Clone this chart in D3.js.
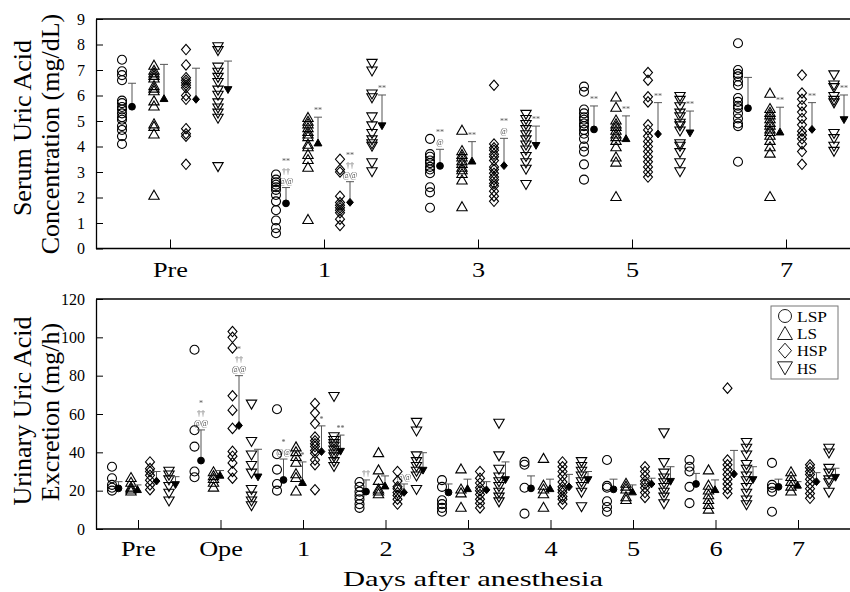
<!DOCTYPE html>
<html><head><meta charset="utf-8">
<script src="https://cdn.jsdelivr.net/npm/d3@7"></script>
<style>body{margin:0;background:#fff} .ann{filter:grayscale(100%)}</style>
</head><body><svg id="c" width="850" height="592"></svg>
<script>
const groups = ["LSP","LS","HSP","HS"];
const topDays = ["Pre","1","3","5","7"];
const botDays = ["Pre","Ope","1","2","3","4","5","6","7"];
const serumTicks = [0,1,2,3,4,5,6,7,8,9];
const urineTicks = [0,20,40,60,80,100,120];

// Serum uric acid (mg/dL), individual values per day
const serumLSP = [
  [7.4,6.95,6.8,6.6,5.8,5.7,5.55,5.45,5.3,5.15,5.05,4.8,4.65,4.4,4.1],
  [2.9,2.7,2.6,2.5,2.4,2.3,2.1,1.85,1.5,1.1,0.8,0.6],
  [4.3,3.7,3.6,3.45,3.35,3.2,3.1,2.95,2.4,2.2,1.6],
  [6.35,6.15,5.45,5.3,5.15,5.05,4.9,4.8,4.65,4.5,4.3,4.0,3.8,3.3,2.7],
  [8.05,7.0,6.85,6.75,6.55,6.4,5.9,5.75,5.6,5.5,5.3,5.1,4.9,4.8,3.4]];
const serumLS = [
  [7.2,7.0,6.9,6.8,6.7,6.4,6.3,6.2,5.8,5.6,4.9,4.8,4.5,2.1],
  [5.15,5.0,4.9,4.75,4.6,4.5,4.4,4.1,4.0,3.7,3.5,3.2,1.15],
  [4.65,3.85,3.7,3.6,3.45,3.35,3.2,3.1,2.95,2.7,1.65],
  [5.95,5.55,5.05,4.9,4.8,4.65,4.5,4.4,4.25,4.0,3.6,3.4,2.05],
  [6.1,5.5,5.35,5.25,5.1,4.95,4.85,4.7,4.6,4.45,4.25,4.0,3.75,2.05]];
const serumHSP = [
  [7.8,7.2,6.7,6.6,6.5,6.4,6.3,6.0,5.85,4.7,4.5,4.4,3.3],
  [3.5,3.1,3.0,2.05,1.8,1.7,1.6,1.5,1.4,1.15,0.9],
  [6.4,4.1,3.95,3.85,3.7,3.6,3.45,3.2,3.1,2.95,2.8,2.7,2.55,2.45,2.25,2.05,1.85],
  [6.9,6.6,5.95,5.75,4.85,4.65,4.4,4.2,4.0,3.8,3.6,3.4,3.2,3.0,2.8],
  [6.8,6.1,5.85,5.6,5.35,5.1,4.85,4.6,4.45,4.3,4.1,3.8,3.3]];
const serumHS = [
  [7.9,7.75,7.1,6.9,6.7,6.5,6.2,6.0,5.7,5.5,5.3,5.1,3.2],
  [7.25,6.95,6.05,5.9,5.15,4.8,4.5,4.25,4.1,4.0,3.35,3.0],
  [5.25,5.05,4.85,4.65,4.45,4.25,4.05,3.85,3.6,3.35,3.1,2.5],
  [5.95,5.8,5.55,5.3,5.15,4.9,4.8,4.6,4.1,4.0,3.75,3.35,3.0],
  [6.8,6.4,6.3,5.95,5.8,5.7,4.5,4.3,4.0,3.8]];
const serumMeanLSP = [5.56,1.77,3.24,4.67,5.5];
const serumMeanLS  = [5.89,4.15,3.44,4.32,4.58];
const serumMeanHSP = [5.85,1.81,3.25,4.49,4.67];
const serumMeanHS  = [6.22,4.8,4.03,4.52,5.04];
const serumSdLSP = [0.92,0.62,0.65,0.92,1.21];
const serumSdLS  = [1.33,1.0,0.75,0.88,0.96];
const serumSdHSP = [1.22,0.81,1.07,1.23,1.05];
const serumSdHS  = [1.13,1.22,0.77,0.87,0.98];
const serumAnnLSP = ["","**|††|@@","**|@","**",""];
const serumAnnLS  = ["","**","**","**","**"];
const serumAnnHSP = ["","**|††|@@","**|@","**","**"];
const serumAnnHS  = ["","**","**","**","**"];

// Urinary uric acid excretion (mg/h)
const urineLSP = [
  [32.5,26.5,23,21.5,20],[93.5,51.5,43,30,27],[62.5,39,31,23.5,20],
  [24.5,22,19.5,17.5,15.5,13,11],[25.5,22,15,13,11,9],[35,33.5,21.5,8],
  [36,22.5,21.5,14.5,11.5,9],[36,32.5,30,22,13.5],[34.5,23,21.5,19.5,9]];
const urineLS = [
  [27,24.5,22,21,20],[30,28,26.5,24.5,22],[43,40.5,38,35,29,27,20],
  [40,31,25.5,21,20,18.5],[31.5,21,19,11.5],[37,23,21,18.5,11.5],
  [24,22.5,21,17,15.5],[31,23,20.5,18,15.5,13,10.5],[30,27.5,25,22.5,20]];
const urineHSP = [
  [35,31.5,30,28,25.5,23,20.5],[103,100,94.5,69.5,62,52.5,40.5,38,34.5,30,26.5],
  [65.5,60.5,55,48,46,44.5,43,41,39.5,36,33.5,20.5],[30,25,22,21,19,17.5,15.5,13],
  [30,26.5,24,21.5,20,18,15.5,13.5,11],[35,32.5,30,27.5,24.5,22,20.5,19,17,15.5,13],
  [32.5,30,27.5,25,23.5,21.5,19,16.5],[73.5,36,33.5,31,28.5,26,23.5,21,18.5],
  [33.5,32,30,28.5,26,23.5,21,18.5,16]];
const urineHS = [
  [30,28,25.5,22,18.5,14.5],[65,45.5,38.5,33,29,20.5,17,14.5,12],
  [69,48,46,44.5,43,41,39,37.5,35,32.5],[55.5,51,38,35,32.5,30,27.5,20.5],
  [55,38,31,27,24.5,22,19,16.5,14],[35,32.5,30,27.5,24.5,22,19,11.5],
  [50,34.5,29,26.5,24,21.5,19,16.5,13],[45,42,38.5,33.5,31,27.5,25,21.5,18.5,15,12.5],
  [42,39.5,31.5,29,25.5,24,19]];
const urineMeanLSP = [21.2,35.7,25.6,19.5,19.1,21.2,20.7,23.5,22];
const urineMeanLS  = [20.7,28.2,24.4,22.6,21.2,21.2,19.5,20.7,23];
const urineMeanHSP = [25,54,40.4,19.1,20.4,22,23.5,28.7,24.7];
const urineMeanHS  = [23,27,40.4,30.5,25.6,25.6,24.7,25.6,26.8];
const urineSdLSP = [3.5,16,10.9,6.1,4.4,6.5,5.3,5.5,4];
const urineSdLS  = [2.3,2.3,10.6,5.1,4.8,4.8,3.5,4.9,1.7];
const urineSdHSP = [5,26,13.4,4.4,4.3,6.5,3,12.3,4.7];
const urineSdHS  = [4.3,14.6,8.6,9.3,9.4,4.4,7.8,6.9,4.9];
const urineAnnLSP = ["","*|††|@@","*|@@","††","","","","",""];
const urineAnnLS  = ["","","*","","","","","",""];
const urineAnnHSP = ["","*|††|@@","*","@@","","","","",""];
const urineAnnHS  = ["","","**","","","","","",""];

const FONT = "'Liberation Serif','Times New Roman',serif";
const svg = d3.select("#c");
const X0 = 96, X1 = 850;

function shapePath(t, s) {
  if (t === "LSP") return `M${-s},0A${s},${s} 0 1,0 ${s},0A${s},${s} 0 1,0 ${-s},0Z`;
  if (t === "LS") return `M0,${-s*1.05}L${s*1.15},${s*0.95}L${-s*1.15},${s*0.95}Z`;
  if (t === "HSP") return `M0,${-s*1.15}L${s},0L0,${s*1.15}L${-s},0Z`;
  return `M0,${s*1.05}L${s*1.15},${-s*0.95}L${-s*1.15},${-s*0.95}Z`;
}

function panel(cfg) {
  const g = svg.append("g");
  const {x, y, off} = cfg;
  // frame lines
  g.append("line").attr("x1", X0).attr("x2", X1).attr("y1", y.range()[1]).attr("y2", y.range()[1])
    .attr("stroke", "#000").attr("stroke-width", 1.3);
  g.append("line").attr("x1", X0).attr("x2", X1).attr("y1", y.range()[0]).attr("y2", y.range()[0])
    .attr("stroke", "#000").attr("stroke-width", 1.3);
  // y axis
  const ya = g.append("g").attr("transform", `translate(${X0},0)`)
    .call(d3.axisLeft(y).tickValues(cfg.ticks).tickSize(-7).tickSizeOuter(0).tickPadding(11));
  ya.select(".domain").attr("stroke-width", 1.3);
  ya.selectAll("text").attr("font-family", FONT).attr("font-size", 16).attr("fill", "#000");
  // x axis
  const xa = g.append("g").attr("transform", `translate(0,${y.range()[0]})`)
    .call(d3.axisBottom(x).tickSize(-9).tickSizeOuter(0));
  xa.select(".domain").remove();
  xa.selectAll("text").attr("font-family", FONT).attr("font-size", 21).attr("fill", "#000")
    .attr("dy", null).attr("y", cfg.labelDy).attr("transform", "scale(1.25,1)");

  const ag = g.append("g").attr("class", "ann");
  groups.forEach((grp, gi) => {
    cfg.days.forEach((day, di) => {
      const px = x(day) + off(grp);
      const vals = cfg.values[gi][di];
      g.append("g").selectAll("path").data(vals).join("path")
        .attr("d", shapePath(grp, 4.5))
        .attr("transform", v => `translate(${px},${y(v)})`)
        .attr("fill", "none").attr("stroke", "#000").attr("stroke-width", 1.1);
      const mx = px + cfg.meanDx;
      const m = cfg.means[gi][di], sd = cfg.sds[gi][di];
      g.append("line").attr("x1", mx).attr("x2", mx).attr("y1", y(m)).attr("y2", y(m + sd))
        .attr("stroke", "#555").attr("stroke-width", 1);
      g.append("line").attr("x1", mx - 4).attr("x2", mx + 4).attr("y1", y(m + sd)).attr("y2", y(m + sd))
        .attr("stroke", "#555").attr("stroke-width", 1);
      g.append("path").attr("d", shapePath(grp, 3.4))
        .attr("transform", `translate(${mx},${y(m)})`).attr("fill", "#000").attr("stroke", "#000");
      const ann = cfg.ann[gi][di];
      if (ann) {
        const lines = ann.split("|");
        lines.forEach((t, li) => {
          ag.append("text").attr("x", mx).attr("y", y(m + sd) - 4 - (lines.length - 1 - li) * 10)
            .attr("text-anchor", "middle").attr("font-family", FONT).attr("font-size", 8)
            .attr("fill", "#555").text(t);
        });
      }
    });
  });
}

const xTop = d3.scalePoint().domain(topDays).range([170, 786]);
const yTop = d3.scaleLinear().domain([0, 9]).range([248.5, 19]);
const offTop = d3.scalePoint().domain(groups).range([-48, 48]);
panel({x: xTop, y: yTop, off: offTop, days: topDays, ticks: serumTicks, labelDy: 29, meanDx: 10,
  values: [serumLSP, serumLS, serumHSP, serumHS],
  means: [serumMeanLSP, serumMeanLS, serumMeanHSP, serumMeanHS],
  sds: [serumSdLSP, serumSdLS, serumSdHSP, serumSdHS],
  ann: [serumAnnLSP, serumAnnLS, serumAnnHSP, serumAnnHS]});

const xBot = d3.scalePoint().domain(botDays).range([138, 798]);
const yBot = d3.scaleLinear().domain([0, 120]).range([529, 299]);
const offBot = d3.scalePoint().domain(groups).range([-26, 31]);
panel({x: xBot, y: yBot, off: offBot, days: botDays, ticks: urineTicks, labelDy: 27.5, meanDx: 6.5,
  values: [urineLSP, urineLS, urineHSP, urineHS],
  means: [urineMeanLSP, urineMeanLS, urineMeanHSP, urineMeanHS],
  sds: [urineSdLSP, urineSdLS, urineSdHSP, urineSdHS],
  ann: [urineAnnLSP, urineAnnLS, urineAnnHSP, urineAnnHS]});

// axis titles
function vtitle(lines, cx, cy) {
  lines.forEach((t, i) => {
    svg.append("text").attr("transform", `translate(${cx[i]},${cy[i]}) rotate(-90)`)
      .attr("text-anchor", "middle").attr("font-family", FONT).attr("font-size", 26)
      .attr("fill", "#000").text(t);
  });
}
vtitle(["Serum Uric Acid", "Concentration (mg/dL)"], [31, 59], [128, 134]);
vtitle(["Urinary Uric Acid", "Excretion (mg/h)"], [31, 59], [411, 412]);
svg.append("text").attr("x", 473).attr("y", 586).attr("text-anchor", "middle")
  .attr("font-family", FONT).attr("font-size", 22).attr("textLength", 260)
  .attr("lengthAdjust", "spacingAndGlyphs").attr("fill", "#000").text("Days after anesthesia");

// legend
const lg = svg.append("g");
lg.append("rect").attr("x", 771).attr("y", 306).attr("width", 67).attr("height", 73)
  .attr("fill", "#fff").attr("stroke", "#777").attr("stroke-width", 1);
const legY = d3.scalePoint().domain(groups).range([316, 368]);
groups.forEach(grp => {
  lg.append("path").attr("d", shapePath(grp, 6.5)).attr("transform", `translate(785,${legY(grp)})`)
    .attr("fill", "none").attr("stroke", "#000").attr("stroke-width", 0.9);
  lg.append("text").attr("x", 797).attr("y", legY(grp) + 5.5).attr("font-family", FONT)
    .attr("font-size", 15).attr("textLength", grp.length * 10)
    .attr("lengthAdjust", "spacingAndGlyphs").attr("fill", "#000").text(grp);
});
</script></body></html>
